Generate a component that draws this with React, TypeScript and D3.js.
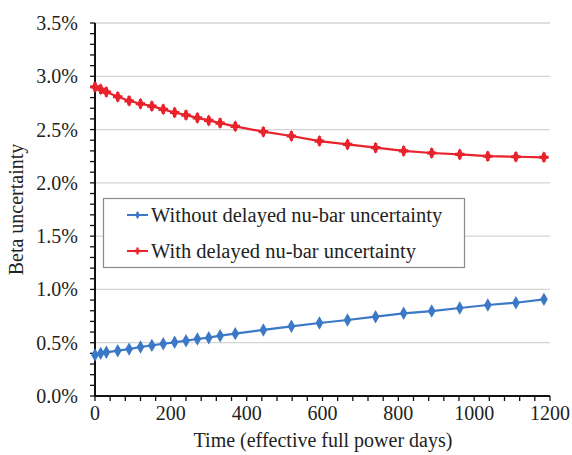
import React from 'react';
import * as d3 from 'd3';

const days = [0, 15, 30, 60, 90, 120, 150, 180, 210, 240, 270, 300, 330, 370, 444, 518, 592, 666, 740, 814, 888, 962, 1036, 1110, 1184];
const withoutDelayed = [0.385, 0.40, 0.41, 0.425, 0.44, 0.46, 0.475, 0.49, 0.504, 0.519, 0.535, 0.547, 0.566, 0.585, 0.62, 0.654, 0.685, 0.713, 0.744, 0.776, 0.797, 0.826, 0.854, 0.875, 0.907];
const withDelayed = [2.90, 2.878, 2.852, 2.808, 2.77, 2.742, 2.72, 2.69, 2.66, 2.636, 2.61, 2.586, 2.561, 2.53, 2.48, 2.44, 2.392, 2.361, 2.33, 2.30, 2.28, 2.267, 2.25, 2.245, 2.24];
const xTicks = [0, 200, 400, 600, 800, 1000, 1200];
const yTicks = [0, 0.5, 1.0, 1.5, 2.0, 2.5, 3.0, 3.5];
const seriesNames = ['Without delayed nu-bar uncertainty', 'With delayed nu-bar uncertainty'];

const W = 572;
const H = 455;
const font = "'Liberation Serif', 'Times New Roman', serif";
const blue = '#3b78c6';
const red = '#e8232b';

export default function App() {
  const x = d3.scaleLinear().domain([0, 1200]).range([95, 550]);
  const y = d3.scaleLinear().domain([0, 3.5]).range([396, 23]);

  const line = d3.line<[number, number]>()
    .x(d => x(d[0]))
    .y(d => y(d[1]));

  const blueData: [number, number][] = days.map((d, i) => [d, withoutDelayed[i]]);
  const redData: [number, number][] = days.map((d, i) => [d, withDelayed[i]]);

  const diamond = d3.symbol().type(d3.symbolDiamond).size(52)() as string;
  const redDiamond = d3.symbol().type(d3.symbolDiamond).size(42)() as string;
  const redCross = d3.symbol().type(d3.symbolCross).size(50)() as string;

  const xMinor = d3.range(0, 1201, 40);
  const yMinor = d3.range(0, 3.501, 0.1);

  return (
    <svg width={W} height={H} style={{ position: 'absolute', left: 0, top: 0, background: '#fff', fontFamily: font }}>
      {/* grid */}
      {yTicks.map(t => (
        <line key={'g' + t} x1={x(0)} x2={x(1200)} y1={y(t)} y2={y(t)} stroke="#d4d4d4" strokeWidth={1.3} />
      ))}

      {/* axes */}
      <line x1={x(0)} x2={x(0)} y1={y(3.5)} y2={y(0) + 1} stroke="#111" strokeWidth={2} />
      <line x1={x(0) - 1} x2={x(1200)} y1={y(0)} y2={y(0)} stroke="#111" strokeWidth={2} />
      {yMinor.map((t, i) => (
        <line key={'ym' + i} x1={x(0) - 5} x2={x(0)} y1={y(t)} y2={y(t)} stroke="#111" strokeWidth={1.3} />
      ))}
      {xMinor.map(t => (
        <line key={'xm' + t} x1={x(t)} x2={x(t)} y1={y(0)} y2={y(0) + 5} stroke="#111" strokeWidth={1.3} />
      ))}
      {yTicks.map(t => (
        <text key={'yl' + t} x={x(0) - 17} y={y(t)} dy="0.35em" textAnchor="end" fontSize={20} fill="#222">
          {t.toFixed(1) + '%'}
        </text>
      ))}
      {xTicks.map(t => (
        <text key={'xl' + t} x={x(t)} y={y(0) + 24} textAnchor="middle" fontSize={20} fill="#222">
          {t}
        </text>
      ))}
      <text x={323} y={447} textAnchor="middle" fontSize={20} fill="#222">Time (effective full power days)</text>
      <text transform={`translate(23,${y(1.75)}) rotate(-90)`} textAnchor="middle" fontSize={20} fill="#222">Beta uncertainty</text>

      {/* series */}
      <path d={line(blueData) as string} fill="none" stroke={blue} strokeWidth={2.2} />
      {blueData.map((d, i) => (
        <path key={'b' + i} d={diamond} transform={`translate(${x(d[0])},${y(d[1])})`} fill={blue} />
      ))}
      <path d={line(redData) as string} fill="none" stroke={red} strokeWidth={2.2} />
      {redData.map((d, i) => (
        <g key={'r' + i} transform={`translate(${x(d[0])},${y(d[1])})`} fill={red}>
          <path d={redDiamond} />
          <path d={redCross} />
        </g>
      ))}

      {/* legend */}
      <rect x={103.5} y={198.5} width={361} height={69} fill="#fff" stroke="#8a8a8a" strokeWidth={1.2} />
      {[blue, red].map((c, i) => (
        <g key={'lg' + i} transform={`translate(0,${215 + i * 36})`}>
          <line x1={127} x2={148} y1={0} y2={0} stroke={c} strokeWidth={2} />
          {i === 0
            ? <path d={d3.symbol().type(d3.symbolDiamond).size(22)() as string} transform="translate(137.5,0)" fill={c} />
            : <path d={d3.symbol().type(d3.symbolCross).size(26)() as string} transform="translate(137.5,0)" fill={c} />}
          <text x={151} y={0} dy="0.35em" fontSize={20.5} fill="#222">{seriesNames[i]}</text>
        </g>
      ))}
    </svg>
  );
}
